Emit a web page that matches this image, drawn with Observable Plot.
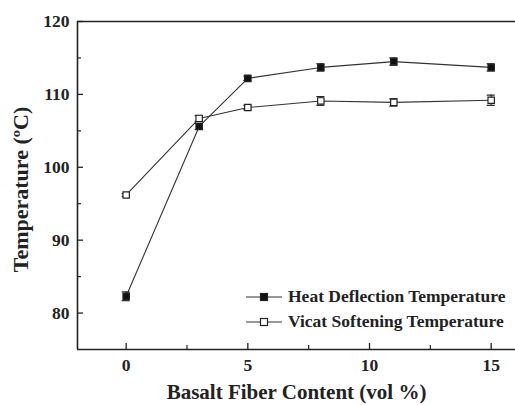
<!DOCTYPE html>
<html>
<head>
<meta charset="utf-8">
<script src="https://cdn.jsdelivr.net/npm/d3@7"></script>
<script src="https://cdn.jsdelivr.net/npm/@observablehq/plot@0.6"></script>
<style>
  html, body { margin: 0; padding: 0; background: #fff; }
  #wrap { position: relative; width: 515px; height: 405px; overflow: hidden; }
  #wrap svg text { font-family: "Liberation Serif", "DejaVu Serif", serif; font-weight: bold; }
  #legend { position: absolute; left: 246px; top: 284px; font-family: "Liberation Serif", "DejaVu Serif", serif; font-weight: bold; font-size: 17.5px; color: #222; }
  #legend .row { display: flex; align-items: center; height: 25px; }
  #legend svg { margin-right: 4px; }
</style>
</head>
<body>
<div id="wrap"></div>
<script>
const fiber = [0, 3, 5, 8, 11, 15];
const hdt = [82.3, 105.6, 112.2, 113.7, 114.5, 113.7];
const hdtErr = [0.6, 0.4, 0.3, 0.5, 0.5, 0.5];
const vst = [96.2, 106.7, 108.2, 109.1, 108.9, 109.2];
const vstErr = [0.2, 0.4, 0.3, 0.6, 0.5, 0.7];
const seriesNames = ["Heat Deflection Temperature", "Vicat Softening Temperature"];
const xTitle = "Basalt Fiber Content (vol %)";
const yTitle = "Temperature (ºC)";
const xTicks = [0, 5, 10, 15];
const xMinor = [2.5, 7.5, 12.5];
const yTicks = [80, 90, 100, 110, 120];
const yMinor = [85, 95, 105, 115];
const xDomain = [-2, 16];
const yDomain = [75, 120];

const rows = [];
fiber.forEach((f, i) => {
  rows.push({s: seriesNames[0], x: f, y: hdt[i], lo: hdt[i] - hdtErr[i], hi: hdt[i] + hdtErr[i], fill: "#111"});
});
fiber.forEach((f, i) => {
  rows.push({s: seriesNames[1], x: f, y: vst[i], lo: vst[i] - vstErr[i], hi: vst[i] + vstErr[i], fill: "#fff"});
});

const ink = "#222";
const chart = Plot.plot({
  width: 515,
  height: 405,
  marginLeft: 77,
  marginRight: 0,
  marginTop: 21,
  marginBottom: 56,
  style: {fontFamily: "Liberation Serif, DejaVu Serif, serif", fontWeight: "bold", fontSize: "17.5px", color: ink, background: "#fff"},
  x: {domain: xDomain},
  y: {domain: yDomain},
  marks: [
    Plot.axisX({ticks: xTicks, tickSize: -6, tickPadding: 15, tickFormat: d => d, label: null, fontSize: 17.5, strokeWidth: 1.3}),
    Plot.axisX({ticks: xMinor, tickSize: -4, text: null, label: null, strokeWidth: 1.2}),
    Plot.axisY({ticks: yTicks, tickSize: -6, tickPadding: 14, tickFormat: d => d, label: null, fontSize: 17.5, strokeWidth: 1.3}),
    Plot.axisY({ticks: yMinor, tickSize: -4, text: null, label: null, strokeWidth: 1.2}),
    Plot.text([xTitle], {frameAnchor: "bottom", textAnchor: "middle", dy: 49, fontSize: 21, fill: ink}),
    Plot.text([yTitle], {frameAnchor: "left", textAnchor: "middle", rotate: -90, dx: -57, dy: 4, fontSize: 22, fill: ink}),
    Plot.ruleX([xDomain[0]], {stroke: ink, strokeWidth: 1.6}),
    Plot.ruleY(yDomain, {stroke: ink, strokeWidth: 1.6}),
    Plot.line(rows, {x: "x", y: "y", z: "s", stroke: "#333", strokeWidth: 1.1}),
    Plot.ruleX(rows, {x: "x", y1: "lo", y2: "hi", stroke: ink, strokeWidth: 1.2}),
    Plot.ruleY(rows, {y: "lo", x1: "x", x2: "x", insetLeft: -4, insetRight: -4, stroke: ink, strokeWidth: 1.2}),
    Plot.ruleY(rows, {y: "hi", x1: "x", x2: "x", insetLeft: -4, insetRight: -4, stroke: ink, strokeWidth: 1.2}),
    Plot.dot(rows, {x: "x", y: "y", symbol: "square", r: 3.6, fill: "fill", stroke: ink, strokeWidth: 1.2})
  ]
});
document.getElementById("wrap").appendChild(chart);

// legend
const legend = document.createElement("div");
legend.id = "legend";
const fills = ["#111", "#fff"];
seriesNames.forEach((name, i) => {
  const row = document.createElement("div");
  row.className = "row";
  row.innerHTML = `<svg width="38" height="10"><line x1="0" y1="5" x2="36" y2="5" stroke="#333" stroke-width="1.1"/><rect x="14.5" y="1.5" width="7" height="7" fill="${fills[i]}" stroke="#222" stroke-width="1.2"/></svg><span>${name}</span>`;
  legend.appendChild(row);
});
document.getElementById("wrap").appendChild(legend);
</script>
</body>
</html>
